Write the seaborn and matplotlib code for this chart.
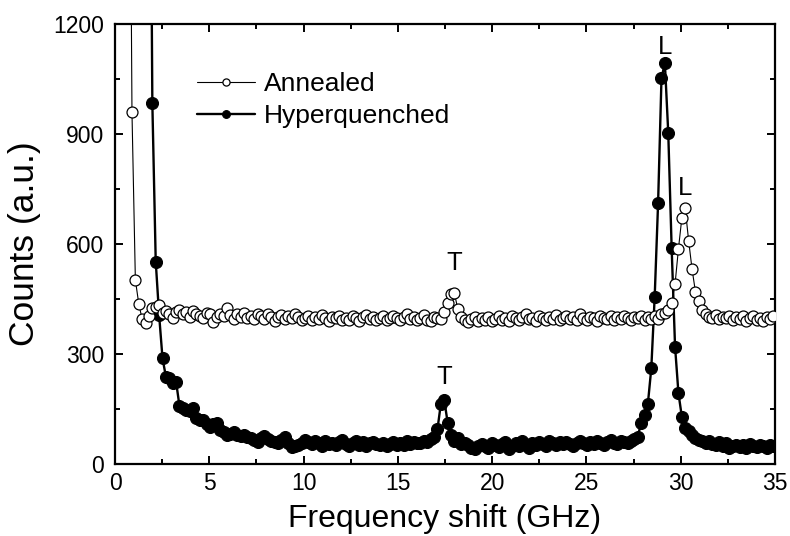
import numpy as np
import pandas as pd
import matplotlib
matplotlib.use("Agg")
import matplotlib.pyplot as plt
from matplotlib.ticker import MultipleLocator
import seaborn as sns

# Brillouin spectra: counts sampled every 0.18 GHz starting at 0.72 GHz
freq_start = 0.72
freq_step = 0.18

annealed = [
    2400, 960, 502, 437, 395, 385, 405, 425, 428, 434,
    412, 418, 410, 397, 415, 420, 408, 414, 402, 418,
    410, 405, 398, 412, 408, 388, 402, 410, 404, 425,
    406, 396, 409, 401, 412, 398, 404, 395, 408, 403,
    396, 410, 402, 391, 400, 406, 395, 403, 397, 409,
    401, 392, 398, 404, 393, 400, 396, 407, 399, 390,
    402, 397, 405, 394, 399, 392, 403, 398, 391, 400,
    406, 395, 401, 393, 398, 404, 392, 399, 405, 397,
    393, 400, 408, 396, 402, 394, 399, 406, 392, 390,
    401, 398, 396, 415, 439, 465, 466, 422, 400, 392,
    386, 395, 402, 390, 398, 393, 400, 389, 396, 403,
    394, 399, 391, 405, 397, 393, 402, 408, 396, 399,
    391, 404, 398, 394, 401, 396, 407, 392, 399, 403,
    395, 401, 393, 410, 398, 394, 402, 397, 391, 405,
    399, 396, 403, 392, 400, 395, 404, 398, 393, 401,
    397, 405, 394, 400, 396, 405, 395, 408, 412, 420,
    439, 491, 587, 671, 697, 609, 532, 470, 445, 420,
    410, 402, 398, 406, 395, 401, 397, 404, 393, 400,
    396, 403, 391, 399, 405, 394, 398, 390, 401, 395, 403,
]

hyperquenched = [
    9000, 7500, 6200, 5000, 4000, 3200, 2400, 985, 552, 406,
    288, 238, 234, 220, 224, 158, 152, 147, 145, 154,
    125, 120, 120, 110, 102, 108, 113, 92, 88, 79,
    82, 86, 80, 76, 79, 74, 70, 66, 61, 70,
    76, 68, 64, 60, 56, 66, 75, 58, 47, 50,
    52, 58, 65, 60, 55, 62, 57, 50, 63, 54,
    58, 52, 60, 66, 55, 50, 57, 62, 53, 59,
    48, 56, 61, 54, 52, 58, 50, 55, 60, 53,
    57, 51, 62, 55, 60, 58, 58, 63, 60, 68,
    75, 95, 164, 175, 113, 79, 62, 70, 55, 58,
    52, 45, 40, 48, 55, 50, 44, 58, 52, 47,
    55, 60, 42, 50, 56, 48, 62, 53, 45, 57,
    51, 60, 55, 48, 63, 57, 52, 59, 54, 61,
    55, 50, 58, 64, 56, 52, 60, 55, 62, 57,
    53, 59, 65, 58, 55, 62, 60, 57, 64, 68,
    75, 111, 134, 165, 261, 456, 711, 1052, 1094, 902,
    588, 320, 193, 129, 97, 90, 80, 70, 66, 62,
    58, 64, 55, 52, 60, 48, 56, 45, 50, 53,
    47, 52, 44, 55, 49, 46, 53, 50, 45, 52, 48,
]

series_names = ["Annealed", "Hyperquenched"]
x_ticks = [0, 5, 10, 15, 20, 25, 30, 35]
y_ticks = [0, 300, 600, 900, 1200]

freq = np.round(freq_start + freq_step * np.arange(len(annealed)), 2)
df_a = pd.DataFrame({"freq": freq, "counts": annealed})
df_h = pd.DataFrame({"freq": freq, "counts": hyperquenched})

sns.set_style("ticks")
plt.rcParams["font.family"] = ["Liberation Sans", "DejaVu Sans"]
plt.rcParams["text.color"] = "black"
plt.rcParams["axes.labelcolor"] = "black"
plt.rcParams["xtick.color"] = "black"
plt.rcParams["ytick.color"] = "black"

fig = plt.figure(figsize=(7.9, 5.36), dpi=100)
ax = fig.add_axes([115 / 790, 1 - 464 / 536, 660 / 790, 440 / 536])

# Hyperquenched first so the open circles sit on top where the curves cross
sns.lineplot(data=df_h, x="freq", y="counts", ax=ax, color="black",
             linewidth=1.7, marker="o", markersize=8.6,
             markerfacecolor="black", markeredgecolor="black",
             markeredgewidth=0.8, errorbar=None, label=series_names[1],
             zorder=2)
sns.lineplot(data=df_a, x="freq", y="counts", ax=ax, color="black",
             linewidth=0.8, marker="o", markersize=7.9,
             markerfacecolor="white", markeredgecolor="black",
             markeredgewidth=0.9, errorbar=None, label=series_names[0],
             zorder=3)

ax.set_xlim(0, 35)
ax.set_ylim(0, 1200)
ax.set_xticks(x_ticks)
ax.set_yticks(y_ticks)
ax.xaxis.set_minor_locator(MultipleLocator(2.5))
ax.yaxis.set_minor_locator(MultipleLocator(150))
ax.tick_params(which="both", direction="in", top=True, right=True,
               width=1.4, labelsize=16.5, colors="black")
ax.tick_params(which="major", length=6)
ax.tick_params(which="minor", length=3.5)
ax.tick_params(axis="y", pad=8)
ax.tick_params(axis="x", pad=6)
for sp in ax.spines.values():
    sp.set_linewidth(1.6)
    sp.set_color("black")
    sp.set_visible(True)

ax.set_xlabel("Frequency shift (GHz)", fontsize=23, labelpad=6)
ax.set_ylabel("Counts (a.u.)", fontsize=25.5, labelpad=9)


def mark_peak(df, lo, hi, text, dy):
    win = df[(df.freq >= lo) & (df.freq <= hi)]
    row = win.loc[win.counts.idxmax()]
    ax.annotate(text, xy=(row.freq, row.counts), xytext=(0, dy),
                textcoords="offset points", ha="center", va="bottom",
                fontsize=18.5)


mark_peak(df_a, 16.5, 19.0, "T", 13)
mark_peak(df_h, 16.5, 19.0, "T", 7.5)
mark_peak(df_a, 29.5, 31.5, "L", 6)
mark_peak(df_h, 28.0, 30.0, "L", 3)

handles, labels = ax.get_legend_handles_labels()
order = [labels.index(n) for n in series_names]
leg = ax.legend([handles[i] for i in order], [labels[i] for i in order],
                loc="upper left", bbox_to_anchor=(0.104, 0.92),
                frameon=False, fontsize=19, handlelength=2.2,
                handletextpad=0.35, labelspacing=0.3, borderpad=0,
                markerscale=0.65)

fig.savefig("out.png", dpi=100)
